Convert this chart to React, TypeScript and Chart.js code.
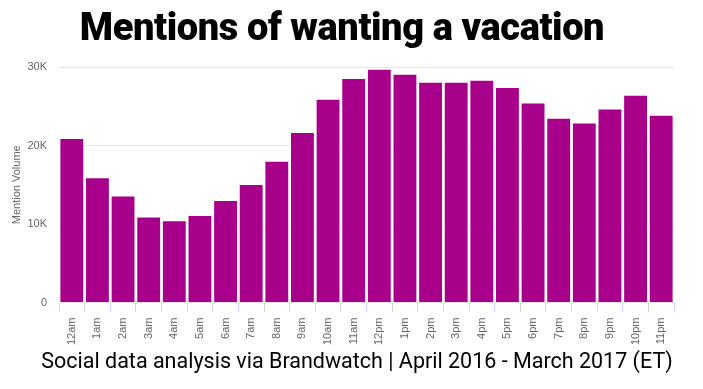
import React, { useEffect, useRef } from "react";
import { Chart, registerables } from "chart.js";

Chart.register(...registerables);

const TITLE = "Mentions of wanting a vacation";
const FOOTER = "Social data analysis via Brandwatch | April 2016 - March 2017 (ET)";
const Y_TITLE = "Mention Volume";

const hours: string[] = [
  "12am", "1am", "2am", "3am", "4am", "5am", "6am", "7am", "8am", "9am", "10am", "11am",
  "12pm", "1pm", "2pm", "3pm", "4pm", "5pm", "6pm", "7pm", "8pm", "9pm", "10pm", "11pm",
];

const mentions: number[] = [
  20940, 15970, 13620, 10940, 10480, 11160, 13070, 15080, 18050, 21710, 25960, 28600,
  29780, 29140, 28120, 28120, 28380, 27450, 25480, 23530, 22930, 24720, 26470, 23920,
];

const yTicks: number[] = [0, 10000, 20000, 30000];

export default function App() {
  const ref = useRef<HTMLCanvasElement | null>(null);

  useEffect(() => {
    document.body.style.margin = "0";
    if (!ref.current) return;
    const chart = new Chart(ref.current, {
      type: "bar",
      data: {
        labels: hours,
        datasets: [
          {
            label: Y_TITLE,
            data: mentions,
            backgroundColor: "#a8008b",
            borderColor: "rgba(255,255,255,0.7)",
            borderWidth: 1,
            barPercentage: 0.97,
            categoryPercentage: 1,
          },
        ],
      },
      options: {
        animation: false,
        responsive: false,
        maintainAspectRatio: false,
        layout: { padding: { left: 10, right: 29, top: 67, bottom: 0 } },
        plugins: {
          legend: { display: false },
          tooltip: { enabled: false },
        },
        scales: {
          x: {
            grid: {
              offset: true,
              drawOnChartArea: false,
              drawTicks: true,
              tickLength: 9,
              color: "#ccd6eb",
            },
            border: { display: false },
            ticks: {
              minRotation: 90,
              maxRotation: 90,
              autoSkip: false,
              padding: 6,
              color: "#666666",
              font: { family: "Liberation Sans", size: 11 },
            },
            afterFit: (scale: any) => {
              scale.height = 389 - 302.5;
            },
          },
          y: {
            min: 0,
            max: 30000,
            afterBuildTicks: (scale: any) => {
              scale.ticks = yTicks.map((v) => ({ value: v }));
            },
            grid: { color: "#e6e6e6", drawTicks: false },
            border: { display: false },
            ticks: {
              padding: 12,
              color: "#666666",
              font: { family: "Liberation Sans", size: 11 },
              callback: (v: any) => (Number(v) === 0 ? "0" : Number(v) / 1000 + "K"),
            },
            title: {
              display: true,
              text: Y_TITLE,
              color: "#666666",
              font: { family: "Liberation Sans", size: 11 },
              padding: { top: 0, bottom: 4 },
            },
            afterFit: (scale: any) => {
              scale.width = 59 - 10;
            },
          },
        },
      },
    });
    return () => chart.destroy();
  }, []);

  return (
    <div style={{ position: "relative", width: 703, height: 389, background: "#fff", overflow: "hidden" }}>
      <canvas ref={ref} width={703} height={389} style={{ position: "absolute", left: 0, top: 0 }} />
      <div
        style={{
          position: "absolute",
          left: 0,
          width: 684,
          top: 4,
          textAlign: "center",
          fontFamily: "Roboto",
          fontWeight: 900,
          fontSize: 38,
          letterSpacing: -0.4,
          color: "#000",
          lineHeight: "46px",
          whiteSpace: "nowrap",
        }}
      >
        {TITLE}
      </div>
      <div
        style={{
          position: "absolute",
          left: 0,
          width: 714,
          top: 347,
          textAlign: "center",
          fontFamily: "Roboto",
          fontWeight: 400,
          fontSize: 21.5,
          color: "#000",
          lineHeight: "28px",
          whiteSpace: "nowrap",
        }}
      >
        {FOOTER}
      </div>
    </div>
  );
}
